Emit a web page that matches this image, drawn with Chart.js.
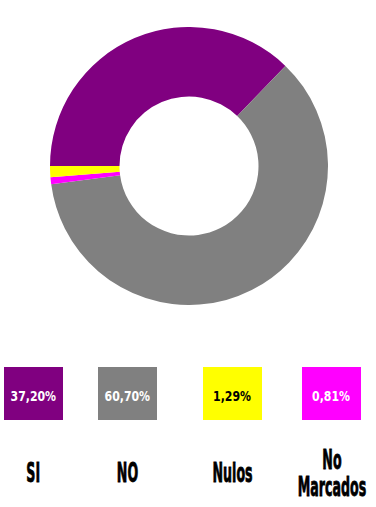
<!DOCTYPE html>
<html>
<head>
<meta charset="utf-8">
<script src="https://cdn.jsdelivr.net/npm/chart.js@4.4.1/dist/chart.umd.min.js"></script>
<style>
  html, body { margin: 0; padding: 0; background: #fff; }
  body { width: 376px; height: 507px; position: relative; overflow: hidden; }
  #wrap { position: absolute; left: 50px; top: 27px; width: 278px; height: 278px; }
  .sq { position: absolute; top: 367px; width: 59px; height: 53px;
        display: flex; align-items: center; justify-content: center; padding-top: 4px; box-sizing: border-box; }
  .sq span { display: inline-block; transform: scaleX(0.9);
        font-family: "DejaVu Sans Condensed", "DejaVu Sans", sans-serif; font-stretch: condensed;
        font-weight: bold; font-size: 13.5px; white-space: nowrap; }
  .lb { position: absolute; top: 445px; width: 140px; height: 55px;
        display: flex; align-items: center; justify-content: center; text-align: center; }
  .lb span { display: inline-block; transform: scaleX(0.52); transform-origin: center;
        font-family: "DejaVu Sans Condensed", "DejaVu Sans", sans-serif; font-stretch: condensed;
        font-weight: bold; font-size: 27px; line-height: 27px; color: #000; white-space: nowrap;
        -webkit-text-stroke: 0.8px #000; }
</style>
</head>
<body>
<div id="wrap"><canvas id="c" width="278" height="278"></canvas></div>
<div id="legend"></div>
<script>
// ---- data ----
const categories = ['SI', 'NO', 'Nulos', 'No Marcados'];
const values = [37.20, 60.70, 1.29, 0.81];
const percentLabels = ['37,20%', '60,70%', '1,29%', '0,81%'];

// ---- styling ----
const colors = ['#800080', '#808080', '#FFFF00', '#FF00FF'];
const textColors = ['#ffffff', '#ffffff', '#000000', '#ffffff'];
const drawOrder = [0, 1, 3, 2]; // clockwise order of slices around the ring
const legendLeft = [4, 98, 203, 302];

new Chart(document.getElementById('c'), {
  type: 'doughnut',
  data: {
    labels: drawOrder.map(i => categories[i]),
    datasets: [{
      data: drawOrder.map(i => values[i]),
      backgroundColor: drawOrder.map(i => colors[i]),
      borderWidth: 0
    }]
  },
  options: {
    responsive: false,
    animation: false,
    cutout: '50%',
    rotation: 270,
    layout: { padding: 0 },
    plugins: { legend: { display: false }, tooltip: { enabled: false } }
  }
});

const legend = document.getElementById('legend');
categories.forEach((cat, i) => {
  const sq = document.createElement('div');
  sq.className = 'sq';
  sq.style.left = legendLeft[i] + 'px';
  sq.style.background = colors[i];
  const t = document.createElement('span');
  t.style.color = textColors[i];
  t.textContent = percentLabels[i];
  sq.appendChild(t);
  legend.appendChild(sq);

  const lb = document.createElement('div');
  lb.className = 'lb';
  lb.style.left = (legendLeft[i] + 29.5 - 70) + 'px';
  const sp = document.createElement('span');
  sp.innerHTML = cat.replace(' ', '<br>');
  lb.appendChild(sp);
  legend.appendChild(lb);
});
</script>
</body>
</html>
